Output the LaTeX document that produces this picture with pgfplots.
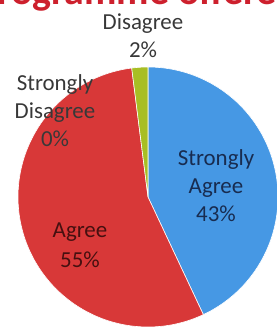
\documentclass[border=0pt]{standalone}
\usepackage{pgfplots}
\pgfplotsset{compat=1.18}
\usepackage{fontspec}
\setmainfont{Carlito}
\definecolor{sablue}{RGB}{70,152,228}
\definecolor{agred}{RGB}{216,56,56}
\definecolor{disgreen}{RGB}{168,190,36}
\definecolor{titlered}{RGB}{205,32,45}
\definecolor{lblblue}{RGB}{24,44,80}
\definecolor{lblred}{RGB}{70,16,16}
\definecolor{lblgray}{RGB}{56,56,56}
\begin{document}
\begin{tikzpicture}
\useasboundingbox (0,0) rectangle (277bp,329bp);
\clip (0,0) rectangle (277bp,329bp);
\begin{axis}[at={(0,0)}, anchor=south west, scale only axis, width=277bp, height=329bp,
  xmin=0, xmax=277, ymin=0, ymax=329, hide axis, clip=false]
% values (percent): Strongly Agree 43, Agree 55, Strongly Disagree 0, Disagree 2
% pie centre (148,132), radius 130, start at 12 o'clock, clockwise
\addplot[fill=sablue, draw=white, line width=0.6pt, domain=90:{90-3.6*43}, samples=120, variable=\t]
  ({148+130*cos(\t)},{132+130*sin(\t)}) -- (axis cs:148,132) -- cycle;
\addplot[fill=agred, draw=white, line width=0.6pt, domain={90-3.6*43}:{90-3.6*(43+55)}, samples=150, variable=\t]
  ({148+130*cos(\t)},{132+130*sin(\t)}) -- (axis cs:148,132) -- cycle;
\addplot[fill=disgreen, draw=white, line width=0.6pt, domain={90-3.6*(43+55+0)}:{90-3.6*(43+55+0+2)}, samples=10, variable=\t]
  ({148+130*cos(\t)},{132+130*sin(\t)}) -- (axis cs:148,132) -- cycle;
\node[anchor=base west, inner sep=0pt, font=\fontsize{40}{42}\selectfont\bfseries, text=titlered] at (axis cs:-24,324) {programme offered};
\node[align=center, inner sep=1pt, font=\fontsize{23}{28}\selectfont, text=lblgray] at (axis cs:143,293) {Disagree\\2\%};
\node[align=center, inner sep=1pt, font=\fontsize{23}{28}\selectfont, text=lblgray] at (axis cs:55,218) {Strongly\\Disagree\\0\%};
\node[align=center, inner sep=1pt, font=\fontsize{23}{28}\selectfont, text=lblblue] at (axis cs:216,143) {Strongly\\Agree\\43\%};
\node[align=center, inner sep=1pt, font=\fontsize{23}{30}\selectfont, text=lblred] at (axis cs:80,84) {Agree\\55\%};
\end{axis}
\end{tikzpicture}
\end{document}
